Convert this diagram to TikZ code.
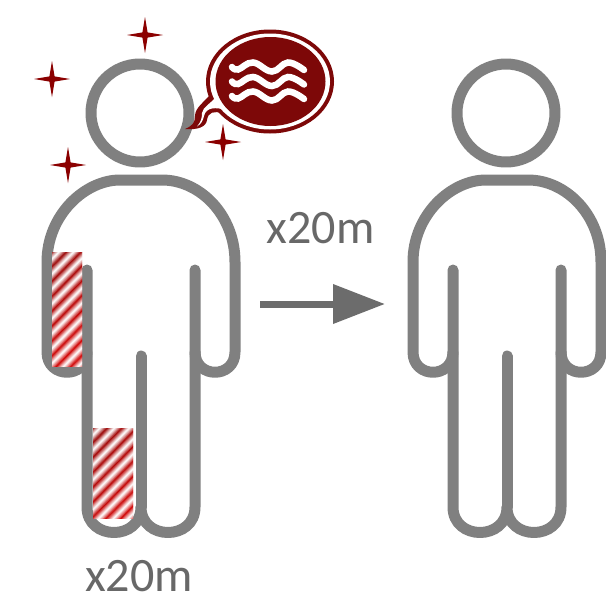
\documentclass[tikz,border=0pt]{standalone}
\usepackage{fontspec}
\setmainfont{Carlito}
\usetikzlibrary{arrows.meta}
\definecolor{ringgray}{RGB}{128,128,128}
\definecolor{labelgray}{RGB}{104,104,104}
\definecolor{arrowgray}{RGB}{108,108,108}
\definecolor{bubblered}{RGB}{125,8,8}
\definecolor{starred}{RGB}{139,0,0}
\definecolor{stripedark}{RGB}{140,0,0}
\definecolor{stripebright}{RGB}{208,0,0}
\tikzset{
  outline/.style={draw=ringgray,line width=11pt,line cap=round,line join=round},
  person/.pic={
    \draw[outline] (140,113) circle[radius=49];
    \draw[outline] (87,270) -- (87,507) .. controls (87,541) and (141,541) .. (141,507)
      .. controls (141,541) and (195,541) .. (195,507) -- (195,270);
    \draw[outline] (141,356) -- (141,507);
    \draw[outline] (87,352) .. controls (87,379) and (47,379) .. (47,352) -- (47,262)
      .. controls (47,215) and (85,180) .. (120,180) -- (162,180)
      .. controls (200,180) and (235,215) .. (235,262) -- (235,352)
      .. controls (235,379) and (195,379) .. (195,352);
  },
  sparkle/.pic={
    \fill[starred] (0,-18) -- (2.6,-2.6) -- (18,0) -- (2.6,2.6) -- (0,18)
      -- (-2.6,2.6) -- (-18,0) -- (-2.6,-2.6) -- cycle;
  },
  wave/.style={draw=white,line width=6.5pt,line cap=round},
  biglabel/.style={text=labelgray,font=\fontsize{48}{50}\selectfont,inner sep=0pt,anchor=base}
}
\newcommand{\stripedbox}[4]{% x0 y0 x1 y1
  \begin{scope}
    \clip (#1,#2) rectangle (#3,#4);
    \fill[white] (#1,#2) rectangle (#3,#4);
    \begin{scope}[shift={(#1,#2)},x={(0.70pt,0.71pt)},y={(0.71pt,-0.70pt)}]
      \foreach \s in {-24,-23.4,...,160} {
        % position inside the stripe period (0..1), 0 = white, 1 = saturated
        \pgfmathsetmacro{\ph}{abs(mod(\s+105,10.5)/5.25-1)}
        \pgfmathsetmacro{\hue}{100*min(1,max(0,(\s+5)/85))}
        \colorlet{basecol}{stripebright!\hue!stripedark}
        \pgfmathsetmacro{\wh}{max(0,min(100,100*pow(\ph+0.001,1.15)))}
        \draw[basecol!\wh!white,line width=0.9pt] (-170,\s) -- (170,\s);
      }
    \end{scope}
  \end{scope}
}
\begin{document}
\begin{tikzpicture}[x=1pt,y=-1pt]
\useasboundingbox (0,0) rectangle (606,592);
\fill[white] (0,0) rectangle (606,592);

\pic at (0,0) {person};
\pic at (366,0) {person};

\stripedbox{52}{252}{82}{366}
\stripedbox{93}{428}{133}{518}

\pic at (145,35) {sparkle};
\pic at (52,79) {sparkle};
\pic at (68,165) {sparkle};
\pic at (223,142) {sparkle};

% speech bubble
\fill[bubblered] (270,81.5) ellipse[x radius=64,y radius=52];
\fill[bubblered] (185,129) .. controls (192,126) and (195,123) .. (195,116)
  .. controls (195,108) and (203,103) .. (212,93) -- (230,115) -- (222,113)
  .. controls (214,111) and (208,112) .. (207,120)
  .. controls (206,127) and (198,130) .. (185,129) -- cycle;
\fill[white] (197,126.5) .. controls (201,122) and (202,118) .. (202,113)
  .. controls (203,107) and (210,104) .. (216,97) -- (226,110)
  .. controls (216,107) and (206,107) .. (204,116)
  .. controls (203,121) and (201,124) .. (197,126.5) -- cycle;
\fill[white] (270,81.5) ellipse[x radius=60,y radius=48];
\fill[bubblered] (270.5,81.5) ellipse[x radius=55,y radius=44.5];
\foreach \dy in {0,14.5,29} {
  \draw[wave,yshift=-\dy pt] plot[smooth,tension=0.7] coordinates
    {(232,67) (238,69.5) (253,62.5) (272,71.5) (288,62.5) (304,70)};
}

% arrow
\coordinate (arrowstart) at (260,304);
\coordinate (arrowend) at (385,304);
\draw[arrowgray,line width=7pt,-{Triangle[length=52pt,width=38pt]}] (arrowstart) -- (arrowend);

\node[biglabel] (toplabel) at (320.5,243) {x20m};
\node[biglabel] (bottomlabel) at (139,591) {x20m};
\end{tikzpicture}
\end{document}
